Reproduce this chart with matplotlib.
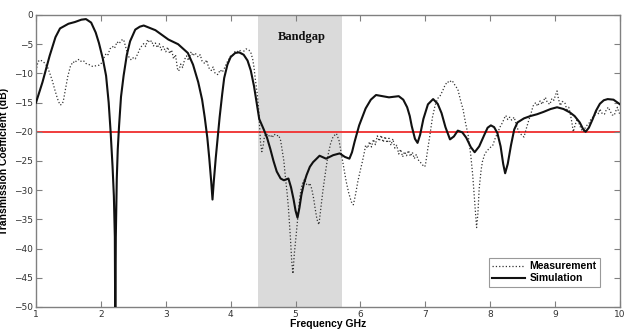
import numpy as np
import matplotlib
matplotlib.use('Agg')
import matplotlib.pyplot as plt

# simulated transmission (solid)
sim_f = [1.0, 1.1, 1.21, 1.3, 1.37, 1.5, 1.6, 1.7, 1.77, 1.85, 1.92, 1.97, 2.03, 2.08,
         2.12, 2.15, 2.18, 2.2, 2.215, 2.222, 2.23, 2.245, 2.26, 2.28, 2.31, 2.35, 2.4,
         2.45, 2.53, 2.6, 2.66, 2.75, 2.84, 2.94, 3.04, 3.19, 3.34, 3.42, 3.5, 3.56, 3.6,
         3.64, 3.67, 3.7, 3.72, 3.74, 3.77, 3.8, 3.83, 3.87, 3.9, 3.95, 4.0, 4.07, 4.13,
         4.2, 4.26, 4.31, 4.36, 4.4, 4.44, 4.51, 4.56, 4.61, 4.66, 4.71, 4.77, 4.82, 4.89,
         4.93, 4.97, 5.0, 5.03, 5.06, 5.09, 5.13, 5.17, 5.22, 5.27, 5.37, 5.47, 5.58, 5.68,
         5.76, 5.83, 5.87, 5.91, 5.98, 6.08, 6.16, 6.24, 6.34, 6.44, 6.52, 6.59, 6.66, 6.72,
         6.76, 6.79, 6.84, 6.88, 6.92, 6.97, 7.04, 7.12, 7.19, 7.25, 7.31, 7.38, 7.44, 7.5,
         7.57, 7.63, 7.7, 7.76, 7.83, 7.91, 7.96, 8.01, 8.06, 8.11, 8.16, 8.2, 8.23, 8.27,
         8.32, 8.37, 8.42, 8.52, 8.62, 8.72, 8.82, 8.93, 9.03, 9.13, 9.23, 9.3, 9.38, 9.43,
         9.47, 9.52, 9.58, 9.63, 9.69, 9.75, 9.81, 9.9, 10.0]
sim_db = [-15, -11.5, -7, -3.8, -2.3, -1.5, -1.2, -0.8, -0.7, -1.3, -3.0, -4.8, -7.5, -10.4,
          -15, -20, -26, -31, -38, -56, -38, -28, -23, -19, -14, -10.4, -6.8,
          -4.5, -2.5, -2.0, -1.8, -2.2, -2.6, -3.4, -4.2, -5.0, -6.5, -8.5, -11.5, -14.5, -17.5,
          -21, -24.5, -28.5, -31.6, -28.5, -24.5, -21, -17.5, -13.5, -10.8, -8.5, -7.2, -6.5, -6.4,
          -6.8, -7.8, -9.5, -12.2, -15, -17.8, -19.6, -21, -22.9, -25, -26.8, -28, -28.3, -28,
          -29.5, -31.6, -33.5, -34.7, -33, -30.8, -28.8, -27.4, -26, -25.2, -24.1, -24.6, -24, -23.7,
          -24.3, -24.6, -23.5, -21.7, -18.9, -16, -14.5, -13.7, -13.9, -14.1, -14, -13.9, -14.5, -15.8,
          -17.3, -19, -21.2, -21.9, -20.5, -17.8, -15.3, -14.4, -15.2, -16.8, -19.2, -21.3, -20.8, -19.8,
          -20.1, -21, -22.6, -23.5, -22.5, -20.5, -19.3, -18.9, -19.2, -20.2, -22.5, -25.5, -27.1, -25.5,
          -22.3, -19.6, -18.4, -17.7, -17.3, -17, -16.6, -16.1, -15.8, -16.1, -16.7, -17.3, -18.4, -19.5,
          -20, -19.3, -17.8, -16.4, -15.2, -14.6, -14.4, -14.5, -15.3]

# measured transmission (dotted)
meas_f = [1.0, 1.03, 1.06, 1.1, 1.14, 1.18, 1.21, 1.25, 1.29, 1.33, 1.37, 1.40, 1.42, 1.45,
          1.49, 1.53, 1.57, 1.6, 1.63, 1.67, 1.7, 1.74, 1.77, 1.82, 1.87, 1.92, 1.97, 2.0,
          2.04, 2.08, 2.11, 2.14, 2.18, 2.21, 2.25, 2.28, 2.32, 2.35, 2.38, 2.41, 2.44, 2.47,
          2.5, 2.53, 2.57, 2.6, 2.63, 2.66, 2.69, 2.72, 2.75, 2.78, 2.81, 2.84, 2.87, 2.9,
          2.93, 2.96, 3.0, 3.03, 3.06, 3.09, 3.12, 3.15, 3.18, 3.2, 3.23, 3.26, 3.29, 3.32,
          3.35, 3.39, 3.42, 3.45, 3.5, 3.53, 3.56, 3.6, 3.63, 3.66, 3.7, 3.73, 3.76, 3.8,
          3.84, 3.87, 3.9, 3.94, 3.97, 4.0, 4.04, 4.07, 4.1, 4.14, 4.17, 4.21, 4.24, 4.28,
          4.31, 4.34, 4.36, 4.38, 4.41, 4.43, 4.44, 4.46, 4.48, 4.5, 4.52, 4.55, 4.58, 4.61,
          4.64, 4.67, 4.7, 4.74, 4.77, 4.79, 4.82, 4.84, 4.87, 4.89, 4.92, 4.94, 4.96, 4.98,
          5.01, 5.04, 5.07, 5.1, 5.14, 5.17, 5.2, 5.22, 5.25, 5.28, 5.3, 5.33, 5.36, 5.39,
          5.42, 5.46, 5.5, 5.54, 5.58, 5.63, 5.67, 5.7, 5.74, 5.78, 5.82, 5.86, 5.89, 5.92,
          5.96, 6.0, 6.03, 6.06, 6.08, 6.11, 6.14, 6.17, 6.2, 6.23, 6.26, 6.29, 6.32, 6.35,
          6.38, 6.41, 6.44, 6.47, 6.5, 6.53, 6.56, 6.59, 6.62, 6.65, 6.68, 6.71, 6.74, 6.77,
          6.8, 6.83, 6.86, 6.9, 6.94, 6.98, 7.0, 7.03, 7.07, 7.11, 7.15, 7.19, 7.23, 7.27,
          7.3, 7.34, 7.37, 7.4, 7.43, 7.46, 7.5, 7.54, 7.58, 7.62, 7.66, 7.7, 7.73, 7.76,
          7.79, 7.81, 7.83, 7.86, 7.88, 7.91, 7.94, 7.98, 8.01, 8.04, 8.08, 8.11, 8.15, 8.19,
          8.22, 8.24, 8.27, 8.3, 8.33, 8.37, 8.4, 8.44, 8.48, 8.52, 8.56, 8.6, 8.63, 8.66,
          8.7, 8.73, 8.77, 8.8, 8.83, 8.85, 8.88, 8.92, 8.95, 8.98, 9.01, 9.03, 9.05, 9.08,
          9.11, 9.15, 9.18, 9.21, 9.23, 9.26, 9.28, 9.31, 9.34, 9.37, 9.4, 9.43, 9.46, 9.49,
          9.52, 9.55, 9.58, 9.61, 9.64, 9.67, 9.69, 9.72, 9.76, 9.79, 9.82, 9.85, 9.88, 9.91,
          9.94, 9.96, 9.98, 10.0]
meas_db = [-9.6, -8.0, -7.7, -7.9, -8.3, -9.0, -9.9, -11.2, -12.8, -14.3, -15.4, -15.3, -14.8, -13,
           -10.5, -8.8, -8.0, -8.2, -7.7, -7.6, -8.0, -7.9, -8.3, -8.5, -8.8, -8.7, -8.6, -8.4,
           -7.5, -6.6, -6.8, -5.8, -5.4, -5.7, -4.6, -4.9, -4.3, -4.2, -5.4, -6.6, -7.4, -7.7,
           -7.3, -7.5, -6.6, -5.8, -5.3, -4.9, -5.4, -4.2, -4.7, -4.4, -5.3, -4.8, -5.6, -4.9,
           -6.0, -5.4, -6.3, -5.5, -6.6, -6.0, -7.5, -6.8, -9.2, -9.6, -8.4, -9.0, -7.6, -7.0,
           -7.8, -6.3, -7.0, -6.5, -7.2, -6.8, -7.9, -8.3, -7.7, -9.0, -9.5, -8.9, -10.0, -10.2,
           -9.4, -9.8, -9.2, -8.2, -7.6, -7.0, -6.8, -6.2, -6.3, -6.0, -6.6, -6.1, -5.8, -6.0,
           -6.4, -7.6, -9.0, -11, -13.5, -16, -18, -21.8, -23.4, -22.5, -20.8, -20.3, -20.8, -20.5,
           -21, -20.4, -20.7, -20.6, -21.5, -22.9, -25, -27.4, -30.5, -33, -38, -42, -44.3, -41,
           -37.6, -34, -30.8, -29, -28.1, -29, -29.2, -28.8, -29.8, -31.5, -33, -35, -35.9, -33,
           -30.2, -27, -24, -22, -20.8, -20.3, -21.5, -23.4, -26, -28.5, -30.5, -32, -32.5, -31,
           -28.5, -26.5, -25.1, -23.5, -22.3, -22.8, -21.7, -22.6, -21.3, -22.2, -20.7, -21.6, -20.6, -21.8,
           -20.8, -21.9, -21.1, -22.3, -21.2, -22.8, -22.3, -23.8, -23.0, -24.3, -23.4, -24.1, -23.2, -24.2,
           -23.5, -24.6, -23.9, -25.0, -25.4, -26.0, -25.8, -23.5, -20.6, -17.5, -15.5, -14.3, -13.8, -12.9,
           -12.1, -11.4, -11.6, -11.2, -11.5, -12.1, -12.7, -14.5, -16.1, -18.5, -20.6, -24, -27.4, -32,
           -36.4, -34, -29.7, -26.5, -25.1, -24.0, -23.4, -22.9, -22.6, -22.3, -21.0, -20.3, -19.2, -18.4,
           -17.6, -17.2, -17.9, -17.5, -18.0, -17.5, -18.8, -20.0, -20.5, -20.9, -19.3, -17.8, -16.8, -15.6,
           -15.0, -15.6, -14.7, -15.3, -14.5, -14.1, -15.0, -15.3, -14.3, -14.6, -13.6, -13.0, -14.3, -15.5,
           -14.8, -15.0, -16.2, -15.8, -16.7, -18.5, -20.0, -18.8, -17.8, -18.6, -19.5, -20.0, -19.4, -18.9,
           -18.6, -17.9, -17.5, -17.2, -16.5, -16.9, -16.1, -16.8, -17.0, -16.2, -15.8, -16.5, -17.1, -17.2,
           -16.3, -15.8, -16.6, -17.0]

bandgap = (4.42, 5.72)
threshold = -20

fig = plt.figure(figsize=(6.29, 3.3), dpi=100)
ax = fig.add_axes([36/629, 23/330, 584/629, 292/330])

ax.axvspan(bandgap[0], bandgap[1], color='#dadada', lw=0, zorder=0)
ax.text(sum(bandgap)/2 + 0.02, -3.7, 'Bandgap', ha='center', va='center',
        fontsize=9, fontweight='bold', family='Liberation Serif', color='#111111')

ax.axhline(threshold, color='#f03c3c', lw=1.4, zorder=1)
ax.plot(meas_f, meas_db, ls=':', color='#333333', lw=0.9, label='Measurement', zorder=2)
ax.plot(sim_f, sim_db, ls='-', color='#111111', lw=1.5, label='Simulation', zorder=3)

ax.set_xlim(1, 10)
ax.set_ylim(-50, 0)
ax.set_xticks(range(1, 11))
ax.set_yticks(range(-50, 1, 5))
ax.tick_params(direction='in', top=True, right=True, length=4, width=0.8,
               color='#808080', labelsize=6.5, labelcolor='#333333', pad=2)
for s in ax.spines.values():
    s.set_color('#808080')
    s.set_linewidth(1.0)

ax.set_xlabel('Frequency GHz', fontsize=7.5, fontweight='bold', family='Liberation Sans', labelpad=0)
ax.set_ylabel('Transmission Coefficient (dB)', fontsize=7.5, fontweight='bold',
              family='Liberation Sans', labelpad=4)

leg = ax.legend(loc='lower right', bbox_to_anchor=(0.965, 0.07), borderaxespad=0,
                fancybox=False, edgecolor='#808080', handlelength=3.2,
                prop={'family': 'Liberation Sans', 'weight': 'bold', 'size': 7.5},
                borderpad=0.3, labelspacing=0.2, handletextpad=0.4)
leg.get_frame().set_linewidth(0.8)

fig.savefig('out.png', dpi=100)
